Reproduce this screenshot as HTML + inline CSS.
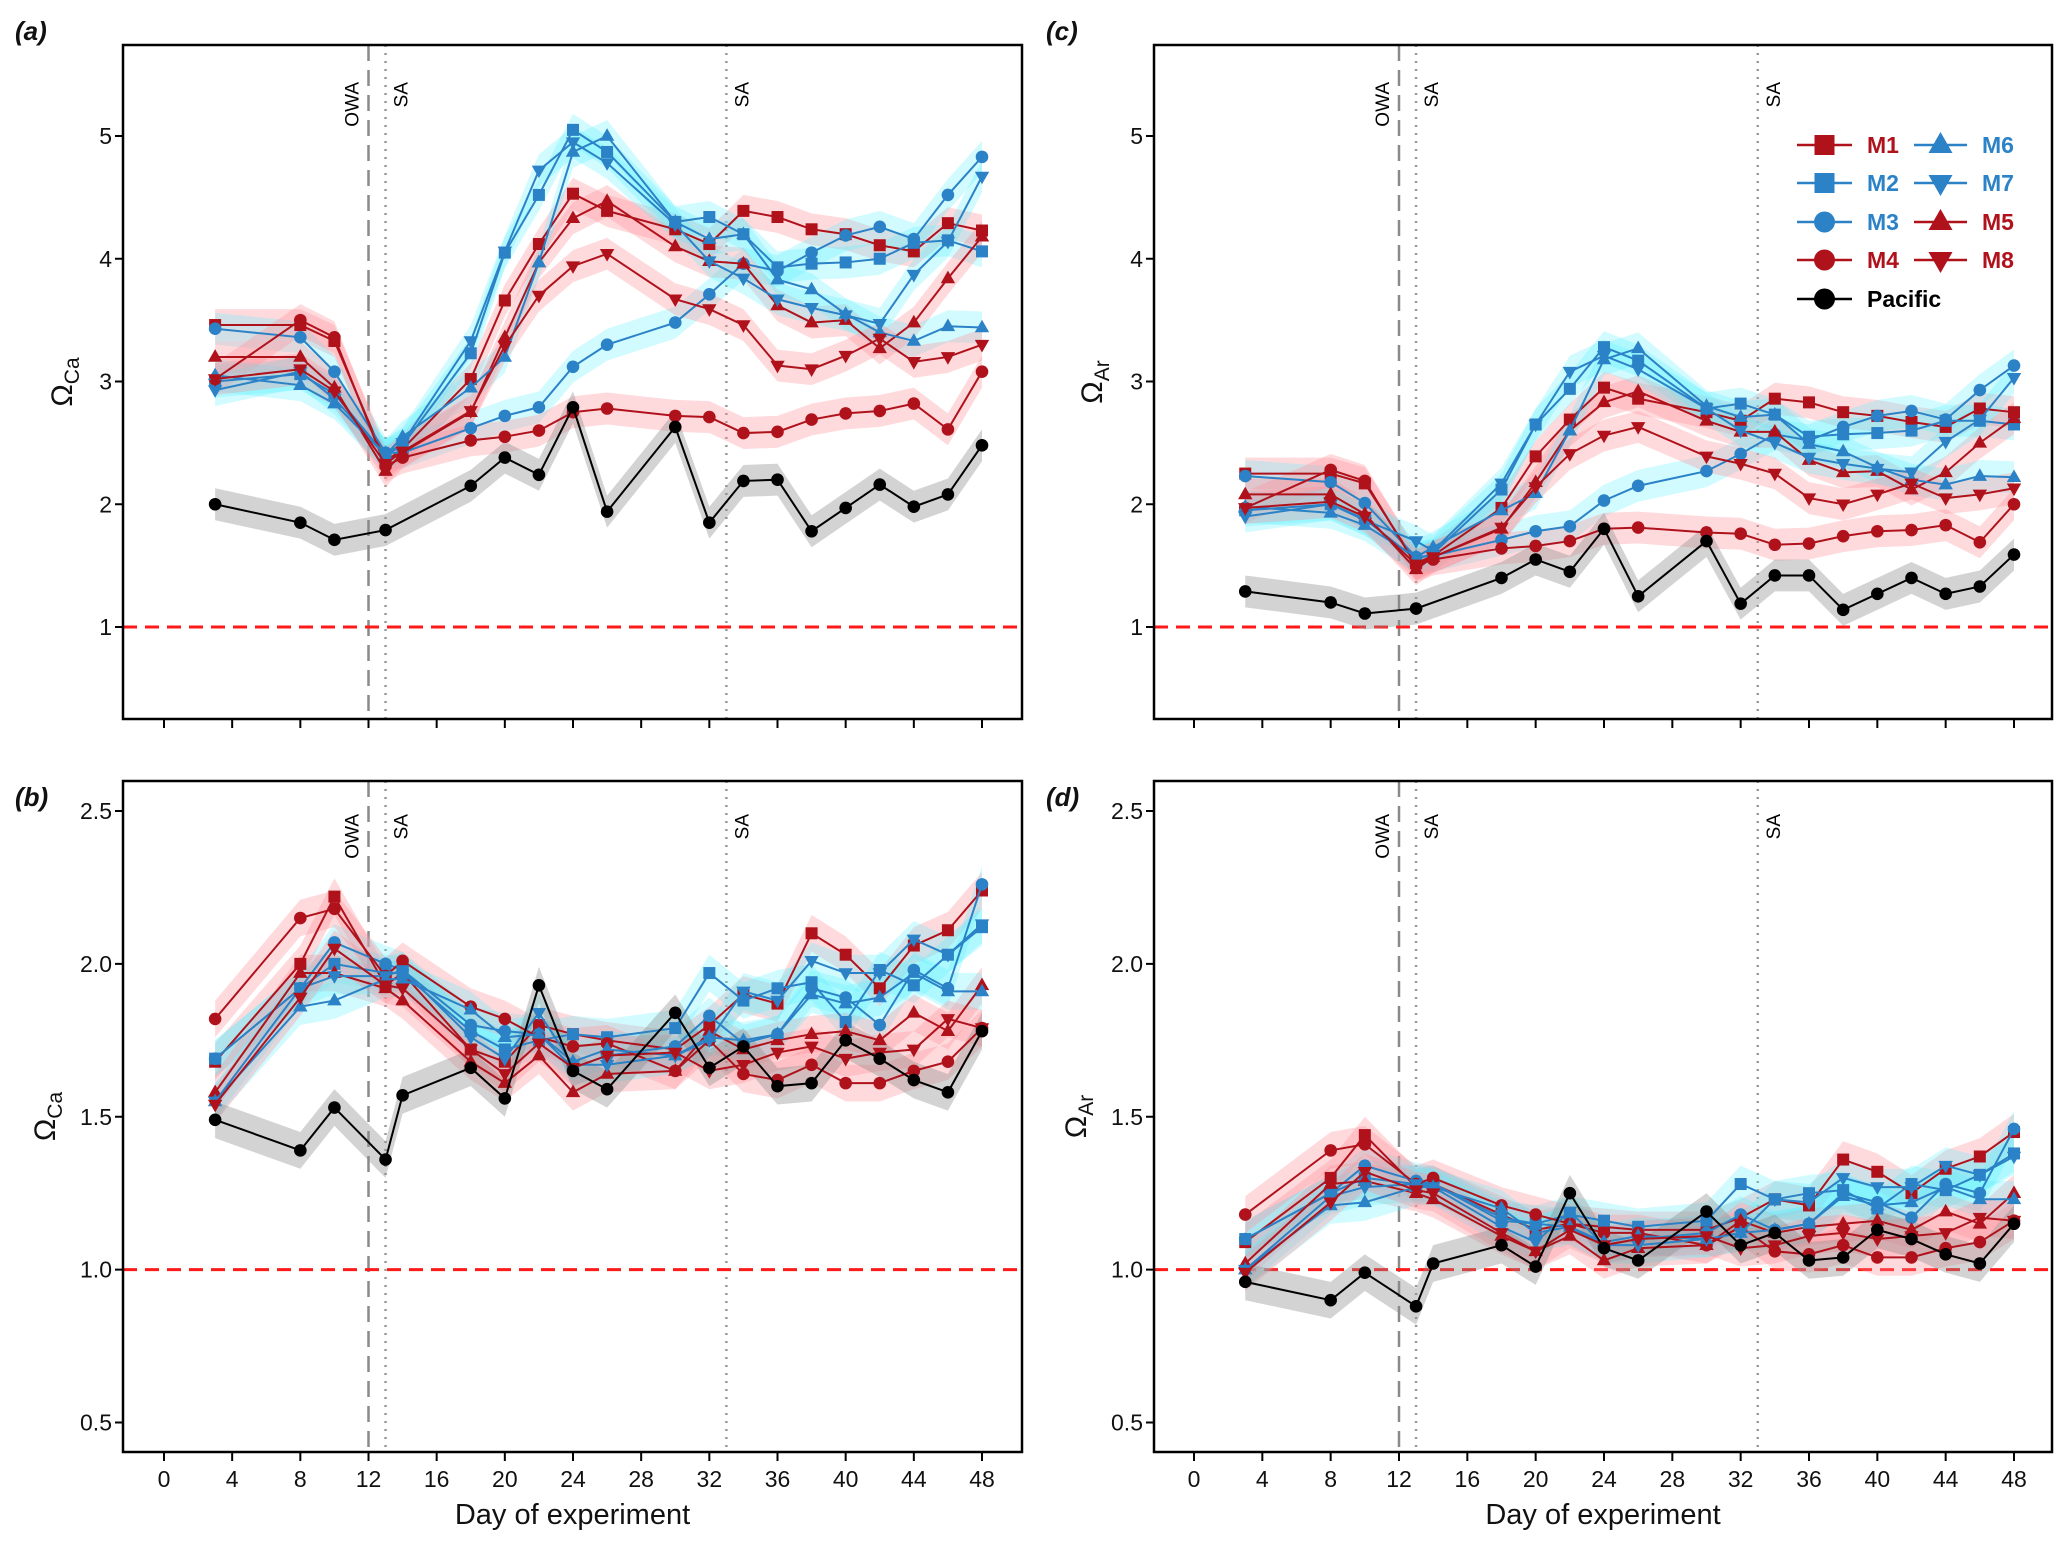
<!DOCTYPE html>
<html><head><meta charset="utf-8"><style>
html,body{margin:0;padding:0;background:#fff;}
svg{display:block;font-family:"Liberation Sans",Arial,sans-serif;}
</style></head><body>
<svg id="fig" width="2067" height="1543" viewBox="0 0 2067 1543" xmlns="http://www.w3.org/2000/svg"></svg>
<script>
const days = [3,8,10,13,14,18,20,22,24,26,30,32,34,36,38,40,42,44,46,48];
const xTicks = [0,4,8,12,16,20,24,28,32,36,40,44,48];
const yTicksTop = [1,2,3,4,5];
const yTicksBot = [0.5,1.0,1.5,2.0,2.5];
const events = [12,13,33];
// panel a (Omega Ca, top)
const aM1=[3.46,3.46,3.33,2.35,2.45,3.02,3.66,4.12,4.53,4.39,4.24,4.12,4.39,4.34,4.24,4.2,4.11,4.06,4.29,4.23];
const aM2=[3.0,3.06,2.9,2.4,2.48,3.23,4.05,4.52,5.05,4.87,4.3,4.34,4.2,3.93,3.96,3.97,4.0,4.13,4.15,4.06];
const aM3=[3.43,3.36,3.08,2.42,2.42,2.62,2.72,2.79,3.12,3.3,3.48,3.71,3.96,3.9,4.05,4.19,4.26,4.16,4.52,4.83];
const aM4=[3.02,3.5,3.36,2.31,2.38,2.52,2.55,2.6,2.75,2.78,2.72,2.71,2.58,2.59,2.69,2.74,2.76,2.82,2.61,3.08];
const aM5=[3.2,3.2,2.95,2.27,2.42,2.75,3.36,3.97,4.33,4.47,4.1,3.98,3.96,3.62,3.48,3.5,3.27,3.48,3.84,4.18];
const aM6=[3.05,2.97,2.82,2.4,2.55,2.95,3.2,3.97,4.87,5.0,4.3,4.16,4.2,3.83,3.75,3.55,3.4,3.33,3.45,3.44];
const aM7=[2.93,3.08,2.86,2.4,2.5,3.33,4.06,4.72,4.95,4.78,4.28,3.98,3.84,3.67,3.6,3.54,3.47,3.87,4.14,4.67];
const aM8=[3.02,3.1,2.92,2.33,2.43,2.76,3.29,3.7,3.94,4.04,3.67,3.59,3.46,3.13,3.1,3.21,3.35,3.16,3.2,3.3];
const aPac=[2.0,1.85,1.71,1.79,null,2.15,2.38,2.24,2.79,1.94,2.63,1.85,2.19,2.2,1.78,1.97,2.16,1.98,2.08,2.48];
// panel b (Omega Ca, bottom)
const bM1=[1.68,2.0,2.22,1.93,1.97,1.72,1.68,1.8,1.77,1.75,1.72,1.8,1.9,1.87,2.1,2.03,1.92,2.06,2.11,2.24];
const bM2=[1.69,1.92,2.0,1.97,1.97,1.78,1.72,1.75,1.77,1.76,1.79,1.97,1.88,1.92,1.94,1.81,1.98,1.93,2.03,2.12];
const bM3=[1.69,1.92,2.07,2.0,1.98,1.8,1.78,1.77,1.66,1.7,1.73,1.83,1.74,1.77,1.92,1.89,1.8,1.98,1.92,2.26];
const bM4=[1.82,2.15,2.18,1.96,2.01,1.86,1.82,1.76,1.73,1.74,1.65,1.75,1.64,1.62,1.67,1.61,1.61,1.65,1.68,1.79];
const bM5=[1.58,1.97,1.97,1.92,1.88,1.68,1.61,1.7,1.58,1.64,1.65,1.78,1.72,1.75,1.77,1.78,1.75,1.84,1.78,1.93];
const bM6=[1.55,1.86,1.88,1.95,1.95,1.85,1.76,1.77,1.68,1.72,1.7,1.76,1.75,1.77,1.9,1.87,1.89,1.97,1.91,1.91];
const bM7=[1.55,1.92,1.96,1.96,1.98,1.76,1.69,1.84,1.67,1.67,1.7,1.75,1.91,1.88,2.01,1.97,1.97,2.08,2.03,2.13];
const bM8=[1.54,1.89,2.05,1.93,1.92,1.72,1.64,1.74,1.66,1.7,1.71,1.65,1.67,1.71,1.73,1.69,1.71,1.72,1.82,1.79];
const bPac=[1.49,1.39,1.53,1.36,1.57,1.66,1.56,1.93,1.65,1.59,1.84,1.66,1.73,1.6,1.61,1.75,1.69,1.62,1.58,1.78];
// panel c (Omega Ar, top)
const cM1=[2.25,2.25,2.17,1.52,1.58,1.97,2.39,2.69,2.95,2.86,2.75,2.68,2.86,2.83,2.75,2.72,2.67,2.63,2.78,2.75];
const cM2=[1.95,2.0,1.88,1.55,1.6,2.12,2.65,2.94,3.28,3.17,2.78,2.82,2.73,2.55,2.57,2.58,2.6,2.68,2.68,2.65];
const cM3=[2.23,2.18,2.01,1.57,1.58,1.71,1.78,1.82,2.03,2.15,2.27,2.41,2.57,2.52,2.63,2.72,2.76,2.69,2.93,3.13];
const cM4=[1.97,2.28,2.19,1.5,1.55,1.64,1.66,1.7,1.8,1.81,1.77,1.76,1.67,1.68,1.74,1.78,1.79,1.83,1.69,2.0];
const cM5=[2.08,2.08,1.92,1.47,1.57,1.8,2.18,2.6,2.83,2.92,2.68,2.59,2.59,2.36,2.26,2.27,2.12,2.26,2.5,2.7];
const cM6=[1.98,1.93,1.83,1.57,1.65,1.95,2.09,2.6,3.18,3.27,2.8,2.71,2.73,2.49,2.43,2.3,2.2,2.16,2.23,2.22];
const cM7=[1.9,2.0,1.87,1.7,1.62,2.17,2.65,3.08,3.21,3.1,2.78,2.6,2.5,2.38,2.33,2.29,2.26,2.51,2.69,3.03];
const cM8=[1.97,2.02,1.9,1.51,1.57,1.81,2.14,2.41,2.56,2.63,2.39,2.33,2.25,2.05,2.0,2.08,2.17,2.05,2.08,2.13];
const cPac=[1.29,1.2,1.11,1.15,null,1.4,1.55,1.45,1.8,1.25,1.7,1.19,1.42,1.42,1.14,1.27,1.4,1.27,1.33,1.59];
// panel d (Omega Ar, bottom)
const dM1=[1.09,1.3,1.44,1.27,1.28,1.18,1.13,1.15,1.14,1.13,1.13,1.17,1.23,1.21,1.36,1.32,1.25,1.33,1.37,1.45];
const dM2=[1.1,1.25,1.3,1.28,1.28,1.16,1.15,1.18,1.16,1.14,1.16,1.28,1.23,1.25,1.26,1.2,1.28,1.26,1.31,1.38];
const dM3=[1.1,1.25,1.34,1.29,1.28,1.17,1.15,1.14,1.08,1.1,1.12,1.18,1.13,1.15,1.25,1.22,1.17,1.28,1.25,1.46];
const dM4=[1.18,1.39,1.41,1.28,1.3,1.21,1.18,1.15,1.12,1.12,1.08,1.14,1.06,1.05,1.08,1.04,1.04,1.07,1.09,1.16];
const dM5=[1.02,1.28,1.29,1.25,1.23,1.11,1.06,1.11,1.03,1.07,1.08,1.16,1.12,1.14,1.15,1.16,1.13,1.19,1.15,1.25];
const dM6=[1.0,1.21,1.22,1.27,1.27,1.2,1.12,1.14,1.09,1.11,1.1,1.12,1.13,1.15,1.24,1.21,1.22,1.27,1.23,1.23];
const dM7=[1.0,1.24,1.27,1.28,1.27,1.14,1.09,1.19,1.08,1.08,1.1,1.12,1.23,1.22,1.3,1.27,1.27,1.34,1.31,1.37];
const dM8=[0.99,1.22,1.32,1.26,1.25,1.12,1.06,1.13,1.08,1.1,1.11,1.07,1.08,1.11,1.12,1.1,1.11,1.12,1.17,1.16];
const dPac=[0.96,0.9,0.99,0.88,1.02,1.08,1.01,1.25,1.07,1.03,1.19,1.08,1.12,1.03,1.04,1.13,1.1,1.05,1.02,1.15];
const seTop = 0.13, seBot = 0.06;

const NS="http://www.w3.org/2000/svg";
const svg=document.getElementById('fig');
const RED="#b0121c", BLUE="#2b82c6", BLK="#000";
const FILL={[RED]:"rgba(255,140,150,0.32)",[BLUE]:"rgba(90,240,255,0.28)",[BLK]:"rgba(140,140,140,0.38)"};
function mk(tag,attrs,parent){const e=document.createElementNS(NS,tag);for(const k in attrs)e.setAttribute(k,attrs[k]);(parent||svg).appendChild(e);return e;}

function marker(g,shape,x,y,r,color){
  let e;
  if(shape==='sq') e=mk('rect',{x:x-r,y:y-r,width:2*r,height:2*r,fill:color},g);
  else if(shape==='ci') e=mk('circle',{cx:x,cy:y,r:r*1.05,fill:color},g);
  else if(shape==='up') e=mk('polygon',{points:`${x},${y-r*1.3} ${x-r*1.2},${y+r*0.8} ${x+r*1.2},${y+r*0.8}`,fill:color},g);
  else e=mk('polygon',{points:`${x},${y+r*1.3} ${x-r*1.2},${y-r*0.8} ${x+r*1.2},${y-r*0.8}`,fill:color},g);
  return e;
}

const panels=[
 {id:'a',L:123,R:1022,T:45,B:719,x0:164,x48:982,ya:5,yaPx:136,yb:1,ybPx:627,ticks:yTicksTop,dec:0,xl:false,label:'(a)',lx:15,ly:40,yt:'Ca',ytx:72,se:seTop,
  s:[aM1,aM2,aM3,aM4,aM5,aM6,aM7,aM8,aPac]},
 {id:'b',L:123,R:1022,T:781,B:1452,x0:164,x48:982,ya:2.5,yaPx:811,yb:0.5,ybPx:1422.5,ticks:yTicksBot,dec:1,xl:true,label:'(b)',lx:15,ly:806,yt:'Ca',ytx:55,se:seBot,
  s:[bM1,bM2,bM3,bM4,bM5,bM6,bM7,bM8,bPac]},
 {id:'c',L:1154,R:2052,T:45,B:719,x0:1194,x48:2014,ya:5,yaPx:136,yb:1,ybPx:627,ticks:yTicksTop,dec:0,xl:false,label:'(c)',lx:1046,ly:40,yt:'Ar',ytx:1102,se:seTop,
  s:[cM1,cM2,cM3,cM4,cM5,cM6,cM7,cM8,cPac]},
 {id:'d',L:1154,R:2052,T:781,B:1452,x0:1194,x48:2014,ya:2.5,yaPx:811,yb:0.5,ybPx:1422.5,ticks:yTicksBot,dec:1,xl:true,label:'(d)',lx:1046,ly:806,yt:'Ar',ytx:1086,se:seBot,
  s:[dM1,dM2,dM3,dM4,dM5,dM6,dM7,dM8,dPac]}
];
const seriesNames=['M1','M2','M3','M4','M5','M6','M7','M8','Pacific'];
const seriesColors=[RED,BLUE,BLUE,RED,RED,BLUE,BLUE,RED,BLK];
const seriesShapes=['sq','sq','ci','ci','up','up','dn','dn','ci'];

panels.forEach(p=>{
  const X=d=>p.x0+(p.x48-p.x0)*d/48;
  const Y=v=>p.ybPx+(v-p.yb)*(p.yaPx-p.ybPx)/(p.ya-p.yb);
  const g=mk('g',{});
  
  
  const clipId='clip'+p.id;
  const cp=mk('clipPath',{id:clipId},g);mk('rect',{x:p.L,y:p.T,width:p.R-p.L,height:p.B-p.T},cp);
  const plot=mk('g',{'clip-path':`url(#${clipId})`},g);
  // event lines
  events.forEach((d,i)=>{
    const l=mk('line',{x1:X(d),x2:X(d),y1:p.T,y2:p.B,stroke:i===0?'#8a8a8a':'#999','stroke-width':i===0?2.5:2.5,'stroke-dasharray':i===0?'16,9':'2,6'},plot);
    
    
    const tx=i===0?X(d)-10:X(d)+22;
    const ty=p.T+(p.id==='a'||p.id==='c'?37:33);
    const t=mk('text',{x:tx,y:ty,'font-size':19,fill:'#000','text-anchor':'end',transform:`rotate(-90 ${tx} ${ty})`},g);
    t.textContent=i===0?'OWA':'SA';
    
    
  });
  // reference line
  const rl=mk('line',{x1:p.L,x2:p.R,y1:Y(1),y2:Y(1),stroke:'#ff1a1a','stroke-width':3,'stroke-dasharray':'14,8'},plot);
  
  
  // bands
  p.s.forEach((vals,si)=>{
    const pts=days.map((d,i)=>[d,vals[i]]).filter(q=>q[1]!==null);
    const up=pts.map(q=>`${X(q[0])},${Y(q[1]+p.se)}`);
    const lo=pts.slice().reverse().map(q=>`${X(q[0])},${Y(q[1]-p.se)}`);
    const b=mk('polygon',{points:up.concat(lo).join(' '),fill:FILL[seriesColors[si]]},plot);
    
    
  });
  // lines + markers
  p.s.forEach((vals,si)=>{
    const pts=days.map((d,i)=>[d,vals[i]]).filter(q=>q[1]!==null);
    const sg=mk('g',{},plot);
    
    
    mk('polyline',{points:pts.map(q=>`${X(q[0])},${Y(q[1])}`).join(' '),fill:'none',stroke:seriesColors[si],'stroke-width':2},sg);
    pts.forEach(q=>{const m=marker(sg,seriesShapes[si],X(q[0]),Y(q[1]),6,seriesColors[si]);
      
      });
  });
  // frame
  const fr=mk('rect',{x:p.L,y:p.T,width:p.R-p.L,height:p.B-p.T,fill:'none',stroke:'#000','stroke-width':2.5},g);
  
  
  // y ticks
  p.ticks.forEach(v=>{
    mk('line',{x1:p.L-8,x2:p.L,y1:Y(v),y2:Y(v),stroke:'#000','stroke-width':2},g);
    const t=mk('text',{x:p.L-11,y:Y(v)+8,'font-size':23,'text-anchor':'end',fill:'#111'},g);
    t.textContent=v.toFixed(p.dec);
    
    
  });
  // x ticks
  xTicks.forEach(d=>{
    mk('line',{x1:X(d),x2:X(d),y1:p.B,y2:p.B+9,stroke:'#000','stroke-width':2},g);
    if(p.xl){const t=mk('text',{x:X(d),y:p.B+35,'font-size':23,'text-anchor':'middle',fill:'#111'},g);
      t.textContent=d;
      
      }
  });
  if(p.xl){const t=mk('text',{x:(p.L+p.R)/2,y:p.B+72,'font-size':29,'text-anchor':'middle',fill:'#111'},g);
    t.textContent='Day of experiment';
    
    }
  // y title
  const cy=(p.T+p.B)/2;
  const yt=mk('text',{x:p.ytx,y:cy,'font-size':30,'text-anchor':'middle',fill:'#111',transform:`rotate(-90 ${p.ytx} ${cy})`},g);
  
  
  const om=mk('tspan',{},yt);om.textContent='Ω';
  const sub=mk('tspan',{'font-size':21,dy:7},yt);sub.textContent=p.yt;
  // panel label
  const pl=mk('text',{x:p.lx,y:p.ly,'font-size':26,'font-weight':'bold','font-style':'italic',fill:'#111'},g);
  pl.textContent=p.label;
  
  
});

// legend
const leg=mk('g',{});


const legRows=[[0,145,0],[1,183,0],[2,222,0],[3,260,0],[8,299,0],[5,145,1],[6,183,1],[4,222,1],[7,260,1]];
legRows.forEach(r=>{
  const si=r[0],y=r[1],col=r[2];
  const x1=col?1914:1797,x2=col?1967:1852,tx=col?1982:1867;
  const eg=mk('g',{},leg);
  
  
  mk('line',{x1:x1,x2:x2,y1:y,y2:y,stroke:seriesColors[si],'stroke-width':2.5},eg);
  marker(eg,seriesShapes[si],(x1+x2)/2,y,10,seriesColors[si]);
  const t=mk('text',{x:tx,y:y+8,'font-size':23,'font-weight':'bold',fill:seriesColors[si]},eg);
  t.textContent=seriesNames[si];
});
</script>
</body></html>
